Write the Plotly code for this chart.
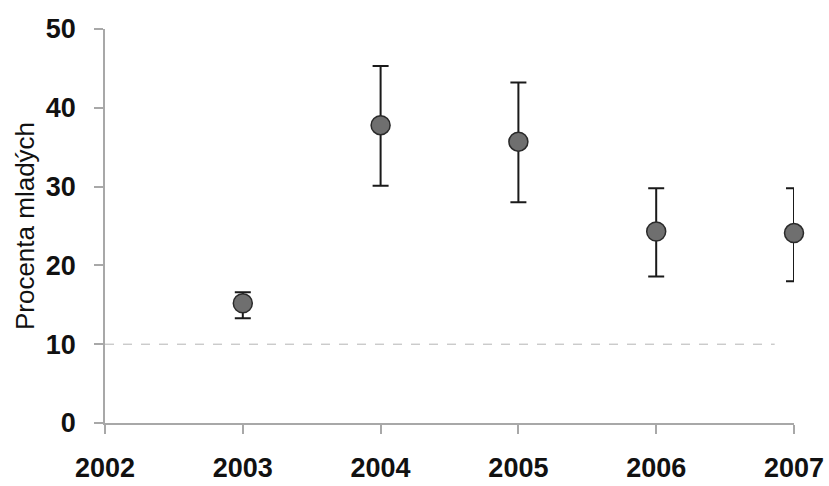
import plotly.graph_objects as go

# Share of young birds per year, with lower/upper bounds of the interval
years = [2003, 2004, 2005, 2006, 2007]
share = [15.2, 37.8, 35.7, 24.3, 24.1]
upper = [16.6, 45.3, 43.2, 29.8, 29.8]
lower = [13.3, 30.1, 28.0, 18.6, 18.0]

x_ticks = [2002, 2003, 2004, 2005, 2006, 2007]
y_ticks = [0, 10, 20, 30, 40, 50]

# dashed reference level
ref_level = 10
ref_start, ref_end = 2002, 2006.86

err_plus = [u - v for u, v in zip(upper, share)]
err_minus = [v - l for v, l in zip(share, lower)]

axis_grey = "#a8a8a8"
font_family = "Liberation Sans, Arial, sans-serif"

fig = go.Figure()

fig.add_trace(go.Scatter(
    x=years,
    y=share,
    mode="markers",
    marker=dict(size=19, color="#6f6f6f", line=dict(color="#2a2a2a", width=1.5)),
    error_y=dict(
        type="data",
        symmetric=False,
        array=err_plus,
        arrayminus=err_minus,
        color="#1a1a1a",
        thickness=2,
        width=8,
    ),
    cliponaxis=False,
    showlegend=False,
))

fig.add_shape(
    type="line",
    xref="x", yref="y",
    x0=ref_start, x1=ref_end, y0=ref_level, y1=ref_level,
    line=dict(color="#b4b4b4", width=1, dash="dash"),
    layer="below",
)

fig.update_layout(
    width=829,
    height=486,
    margin=dict(l=105, r=35, t=29, b=63),
    paper_bgcolor="white",
    plot_bgcolor="white",
    font=dict(family=font_family, color="#111111"),
)

fig.update_xaxes(
    range=[2002, 2007],
    tickmode="array",
    tickvals=x_ticks,
    ticktext=[str(t) for t in x_ticks],
    showline=True,
    linecolor=axis_grey,
    linewidth=1.5,
    ticks="outside",
    ticklen=9,
    tickwidth=1.5,
    tickcolor=axis_grey,
    showgrid=False,
    zeroline=False,
    automargin=False,
    tickfont=dict(size=27, family=font_family, weight="bold", color="#111111"),
    ticklabelstandoff=11,
)

fig.update_yaxes(
    range=[0, 50],
    tickmode="array",
    tickvals=y_ticks,
    showline=True,
    linecolor=axis_grey,
    linewidth=1.5,
    ticks="outside",
    ticklen=9,
    tickwidth=1.5,
    tickcolor=axis_grey,
    showgrid=False,
    zeroline=False,
    automargin=False,
    tickfont=dict(size=27, family=font_family, weight="bold", color="#111111"),
    ticklabelstandoff=13,
    title=dict(
        text="Procenta mladých",
        font=dict(size=26, family=font_family, color="#111111"),
        standoff=4,
    ),
)

fig.write_html("out.html")
